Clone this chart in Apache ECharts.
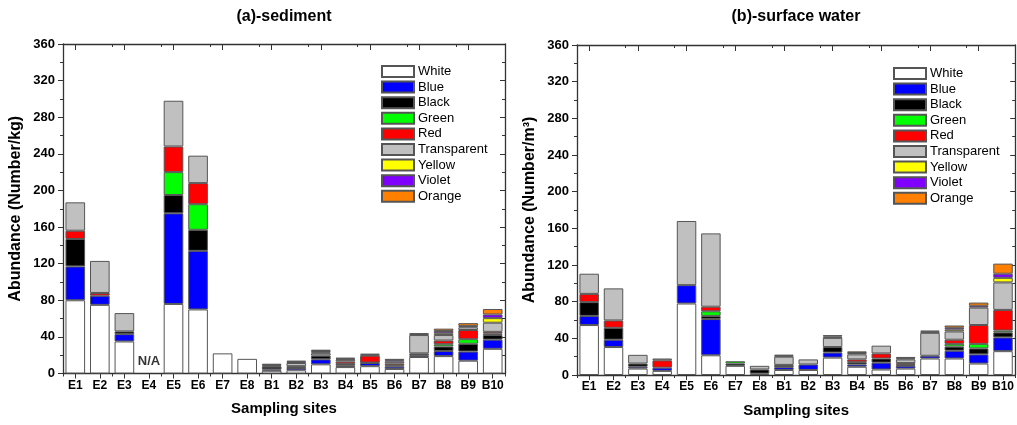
<!DOCTYPE html>
<html><head><meta charset="utf-8">
<script src="https://cdn.jsdelivr.net/npm/echarts@6/dist/echarts.min.js"></script>
<style>html,body{margin:0;padding:0;background:#fff}#c{width:1017px;height:425px}</style>
</head><body><div id="c"></div>
<script>
const categories = ['E1','E2','E3','E4','E5','E6','E7','E8','B1','B2','B3','B4','B5','B6','B7','B8','B9','B10'];
const colorNames = ['White','Blue','Black','Green','Red','Transparent','Yellow','Violet','Orange'];
const colorHex = ['#ffffff','#0000ff','#000000','#00ff00','#ff0000','#c0c0c0','#ffff00','#8000ff','#ff8000'];
const yTicks = [0,40,80,120,160,200,240,280,320,360];

// (a) sediment, Number/kg
const sedWhite       = [80,75,35,0,76,70,22,16,3,3.5,10,7,8,5,18,19,14,27];
const sedBlue        = [37,10,8,0,99,64,0,0,1.5,2.5,5.5,1.5,3.5,2.5,2,5.5,10,10];
const sedBlack       = [30,0,3,0,20,23,0,0,3,2,4,2,0.5,1.5,2,5,8.5,5];
const sedGreen       = [0,0,0,0,25,28,0,0,1,0,0,0,0,0,0,2.5,5,1.5];
const sedRed         = [9,3,0,0,28,23,0,0,0,0,0,2.5,7.5,2,0,4,10,2];
const sedTransparent = [31,35,20,0,50,30,0,0,0,3.5,2.5,2,0,2,20,6,3,10];
const sedYellow      = [0,0,0,0,0,0,0,0,0,0,1,0,0,0,0,2,0,5];
const sedViolet      = [0,0,0,0,0,0,0,0,1,1.2,1.5,1,1,1.5,1,2.5,1.5,4];
const sedOrange      = [0,0,0,0,0,0,0,0,1,1.3,1.5,1.3,1,1.5,1,2.5,3,6];

// (b) surface water, Number/m3
const watWhite       = [54.5,30.5,7,4.5,78,21.5,10,1.5,5.5,5.5,19,9,6,7,18,18,12.5,26];
const watBlue        = [10,8,2,3.5,20,39.5,0,0,3,6,5.5,2.5,7.5,3,3,8.5,10,15];
const watBlack       = [15,13,3.5,0,0,3.5,2.5,4.5,2.5,0,6,2.5,4.5,1,0,4.5,6.5,5.5];
const watGreen       = [0,0,0,0,0,5,2.5,0,0,0,0,0,0,0,0,3,5,2];
const watRed         = [9,8,0,8,0,5,0,0,0,0,0,3,5.5,2,0,4.5,20.5,22.5];
const watTransparent = [22,35,9.5,2,70,80,0,4,9,5.5,10,5.5,8.5,4,25,9,19,30];
const watYellow      = [0,0,0,0,0,0,0,0,0,0,0,0,0,0,0,2,0,5];
const watViolet      = [0,0,0,0,0,0,0,0,1,0,1.5,1.5,0,1.3,1.2,2,2,4.5];
const watOrange      = [0,0,0,0,0,0,0,0,1,0,1.5,1.8,0,1.4,1.2,2.5,3.5,11];

const sedSets = [sedWhite,sedBlue,sedBlack,sedGreen,sedRed,sedTransparent,sedYellow,sedViolet,sedOrange];
const watSets = [watWhite,watBlue,watBlack,watGreen,watRed,watTransparent,watYellow,watViolet,watOrange];

const FONT = '"Liberation Sans", Arial, sans-serif';
const LINE = {lineStyle:{color:'#333',width:1.3}};

function xAxes(gridIndex){
  const base = {type:'category', data:categories, gridIndex, boundaryGap:true};
  return [
    Object.assign({}, base, {position:'bottom', axisLine:Object.assign({show:true},LINE),
      axisTick:{show:true, alignWithLabel:true, length:5, lineStyle:{color:'#333'}},
      axisLabel:{show:true, fontFamily:FONT, fontWeight:'bold', fontSize:12, color:'#000', margin:6, interval:0},
      name:'Sampling sites', nameLocation:'middle', nameGap:28,
      nameTextStyle:{fontFamily:FONT, fontWeight:'bold', fontSize:15, color:'#000'}}),
    Object.assign({}, base, {position:'bottom', axisLine:{show:false},
      axisTick:{show:true, length:3, lineStyle:{color:'#333'}}, axisLabel:{show:false}}),
    Object.assign({}, base, {position:'top', axisLine:Object.assign({show:true},LINE),
      axisTick:{show:true, inside:true, alignWithLabel:true, length:6, lineStyle:{color:'#333'}}, axisLabel:{show:false}}),
    Object.assign({}, base, {position:'top', axisLine:{show:false},
      axisTick:{show:true, inside:true, length:3, lineStyle:{color:'#333'}}, axisLabel:{show:false}})
  ];
}
function yAxes(gridIndex, name){
  const base = {type:'value', gridIndex, min:yTicks[0], max:yTicks[yTicks.length-1], interval:40, splitLine:{show:false}};
  return [
    Object.assign({}, base, {position:'left', axisLine:Object.assign({show:true},LINE),
      axisTick:{show:true, length:5, lineStyle:{color:'#333'}},
      minorTick:{show:true, splitNumber:2, length:3, lineStyle:{color:'#333'}},
      axisLabel:{fontFamily:FONT, fontWeight:'bold', fontSize:13, color:'#000', margin:8},
      name:name, nameLocation:'middle', nameGap:39,
      nameTextStyle:{fontFamily:FONT, fontWeight:'bold', fontSize:16, color:'#000'}}),
    Object.assign({}, base, {position:'right', axisLine:Object.assign({show:true},LINE),
      axisTick:{show:true, inside:true, length:5, lineStyle:{color:'#333'}},
      minorTick:{show:true, splitNumber:2, length:3, lineStyle:{color:'#333'}},
      axisLabel:{show:false}})
  ];
}

const series = [];
function addStack(sets, xIdx, yIdx, stackName){
  sets.forEach((arr, i) => {
    series.push({
      type:'bar', name:colorNames[i], stack:stackName, xAxisIndex:xIdx, yAxisIndex:yIdx,
      barWidth:'80%',
      itemStyle:{color:colorHex[i], borderColor:'#555', borderWidth:1},
      emphasis:{disabled:true},
      data: arr.map(v => v === 0 ? '-' : v)
    });
  });
}
addStack(sedSets, 0, 0, 'sed');
addStack(watSets, 4, 2, 'wat');
series.push({
  type:'scatter', name:'na', xAxisIndex:0, yAxisIndex:0, symbolSize:0, silent:true,
  data:[['E4', 13]],
  label:{show:true, position:'inside', formatter:'N/A', fontFamily:FONT, fontWeight:'bold', fontSize:13, color:'#000'}
});

const legendBase = {orient:'vertical', itemWidth:32, itemHeight:11, itemGap:2.6, icon:'rect', data:colorNames,
  selectedMode:false, textStyle:{fontFamily:FONT, fontSize:13, color:'#000', padding:[0,0,0,-1]}, padding:0};

const chart = echarts.init(document.getElementById('c'), null, {renderer:'canvas'});
chart.setOption({
  animation:false,
  backgroundColor:'#fff',
  grid:[
    {left:63, right:512, top:44, bottom:51.5, containLabel:false},
    {left:577, right:1, top:45, bottom:50, containLabel:false}
  ],
  xAxis: xAxes(0).concat(xAxes(1)),
  yAxis: yAxes(0, 'Abundance (Number/kg)').concat(yAxes(1, 'Abundance (Number/m\u00b3)')),
  legend:[
    Object.assign({}, legendBase, {left:381, top:65}),
    Object.assign({}, legendBase, {left:893, top:67})
  ],
  graphic:[
    {type:'text', x:284, y:9, style:{text:'(a)-sediment', font:'bold 16px '+FONT, fill:'#000', textAlign:'center'}},
    {type:'text', x:796, y:9, style:{text:'(b)-surface water', font:'bold 16px '+FONT, fill:'#000', textAlign:'center'}}
  ],
  series
});
</script></body></html>
